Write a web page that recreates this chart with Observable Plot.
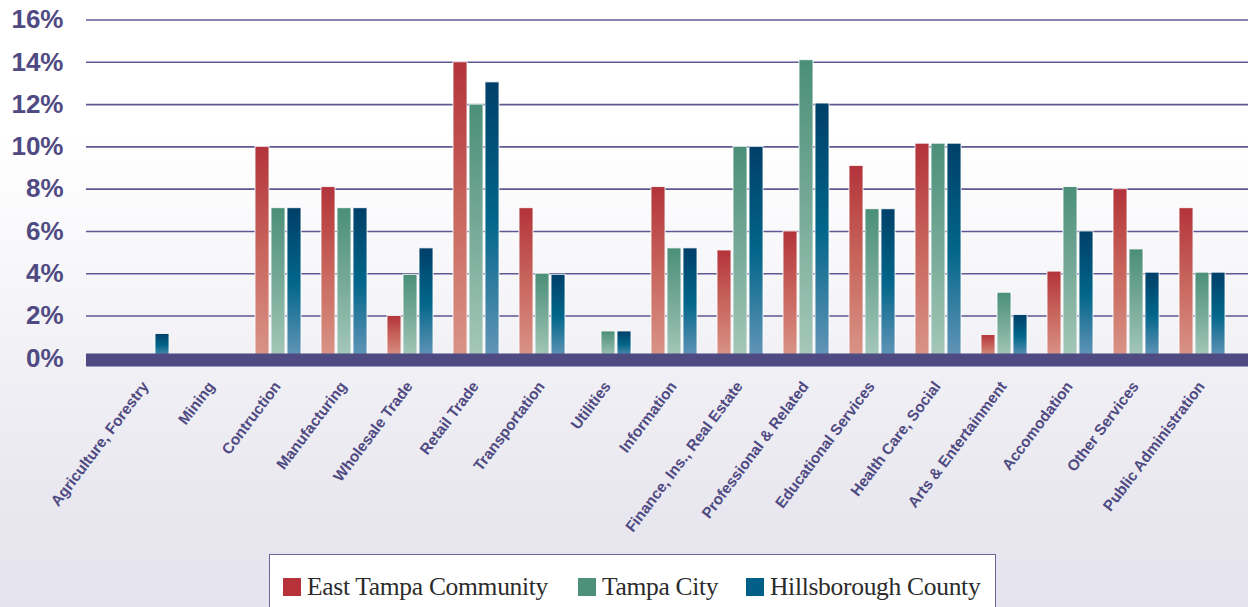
<!DOCTYPE html>
<html>
<head>
<meta charset="utf-8">
<script src="https://cdn.jsdelivr.net/npm/d3@7"></script>
<script src="https://cdn.jsdelivr.net/npm/@observablehq/plot@0.6"></script>
<style>
  html, body { margin: 0; padding: 0; width: 1248px; height: 607px; overflow: hidden; }
  body {
    background: linear-gradient(to bottom, #ffffff 0%, #ffffff 22%, #f8f8fb 42%, #f1f0f5 60%, #e9e8f0 82%, #e5e3ed 100%);
    position: relative;
  }
  #legend {
    position: absolute; left: 269px; top: 554px; width: 727px; height: 70px;
    background: #ffffff; border: 1.5px solid #6b6699; box-sizing: border-box;
    font-family: "Liberation Serif", "DejaVu Serif", serif; font-size: 25.5px; color: #2b2b2b;
  }
  #legend .item { position: absolute; top: 17px; display: flex; align-items: center; letter-spacing: -0.3px; white-space: nowrap; }
  #legend .sw { width: 18px; height: 18px; margin-right: 6px; display: inline-block; }
</style>
</head>
<body>
<div id="chart"></div>
<div id="legend"></div>
<script>
const categories = ["Agriculture, Forestry", "Mining", "Contruction", "Manufacturing", "Wholesale Trade",
  "Retail Trade", "Transportation", "Utilities", "Information", "Finance, Ins., Real Estate",
  "Professional & Related", "Educational Services", "Health Care, Social", "Arts & Entertainment",
  "Accomodation", "Other Services", "Public Administration"];
const seriesNames = ["East Tampa Community", "Tampa City", "Hillsborough County"];
const eastTampa    = [0, 0, 10.0, 8.1, 2.0, 14.0, 7.1, 0, 8.1, 5.1, 6.0, 9.1, 10.15, 1.1, 4.1, 8.0, 7.1];
const tampaCity    = [0, 0, 7.1, 7.1, 3.95, 12.0, 4.0, 1.27, 5.2, 10.0, 14.1, 7.05, 10.15, 3.1, 8.1, 5.15, 4.05];
const hillsborough = [1.15, 0, 7.1, 7.1, 5.2, 13.05, 3.95, 1.27, 5.2, 10.0, 12.05, 7.05, 10.15, 2.05, 6.0, 4.05, 4.05];
const yTicks = [0, 2, 4, 6, 8, 10, 12, 14, 16];
const swatchColors = ["#b8323a", "#4e917a", "#005f87"];

const toRows = vals => categories.map((c, i) => ({category: c, value: vals[i]})).filter(d => d.value > 0);
const seriesData = [toRows(eastTampa), toRows(tampaCity), toRows(hillsborough)];
const gradIds = ["gRed", "gGreen", "gBlue"];
const offsets = [-16, 0, 16];

const purple = "#4f4a82";
const inset = 26;

const plot = Plot.plot({
  width: 1248,
  height: 548,
  marginLeft: 86,
  marginRight: 0,
  marginTop: 10,
  marginBottom: 175,
  style: {background: "transparent", overflow: "visible"},
  x: {domain: categories, range: [112, 1235], padding: 0},
  y: {domain: [0, 16], range: [357.8, 19.5]},
  marks: [
    Plot.ruleY(yTicks.filter(t => t > 0), {stroke: "#5d5993", strokeWidth: 1.6}),
    ...seriesData.map((rows, k) => Plot.barY(rows, {
      x: "category", y: "value",
      fill: `url(#${gradIds[k]})`,
      stroke: "#ffffff", strokeWidth: 1, strokeOpacity: 0.85,
      insetLeft: inset, insetRight: inset, dx: offsets[k]
    })),
    Plot.ruleY([0], {stroke: purple, strokeWidth: 13, dy: 1.6}),
    Plot.axisY({ticks: yTicks, tickSize: 0, tickPadding: 23, tickFormat: d => d + "%",
      fontSize: 26, fontWeight: "bold", fill: purple, label: null,
      fontFamily: "Liberation Sans, Arial, sans-serif"}),
    Plot.axisX({tickSize: 0, tickRotate: -53, tickPadding: 10, label: null, dx: -1,
      fontSize: 15.3, fontWeight: "bold", fill: purple,
      fontFamily: "Liberation Sans, Arial, sans-serif"})
  ]
});

const ns = "http://www.w3.org/2000/svg";
const defs = document.createElementNS(ns, "defs");
const grads = [
  ["gRed",   [[0, "#b3333a"], [0.5, "#c8665d"], [1, "#da9589"]]],
  ["gGreen", [[0, "#4b8f78"], [0.5, "#77aa98"], [1, "#a5c8ba"]]],
  ["gBlue",  [[0, "#003f68"], [0.5, "#02668a"], [1, "#6496b8"]]]
];
for (const [id, stops] of grads) {
  const g = document.createElementNS(ns, "linearGradient");
  g.setAttribute("id", id);
  g.setAttribute("x1", "0"); g.setAttribute("y1", "0");
  g.setAttribute("x2", "0"); g.setAttribute("y2", "1");
  for (const [o, c] of stops) {
    const s = document.createElementNS(ns, "stop");
    s.setAttribute("offset", o);
    s.setAttribute("stop-color", c);
    g.appendChild(s);
  }
  defs.appendChild(g);
}
plot.insertBefore(defs, plot.firstChild);
document.getElementById("chart").appendChild(plot);

const legend = document.getElementById("legend");
const itemLefts = [13, 308, 476];
seriesNames.forEach((name, i) => {
  const item = document.createElement("div");
  item.className = "item";
  item.style.left = itemLefts[i] + "px";
  const sw = document.createElement("span");
  sw.className = "sw";
  sw.style.background = swatchColors[i];
  const t = document.createElement("span");
  t.textContent = name;
  item.appendChild(sw); item.appendChild(t);
  legend.appendChild(item);
});
</script>
</body>
</html>
